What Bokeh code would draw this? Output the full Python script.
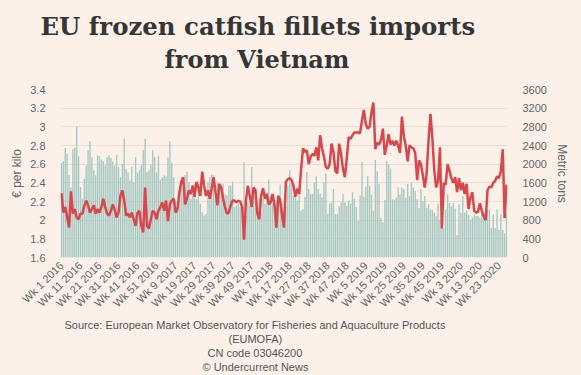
import math
from bokeh.plotting import figure
from bokeh.models import Range1d, LinearAxis, FixedTicker, Title
from bokeh.embed import file_html
from bokeh.resources import INLINE

# ---------------- data ----------------
title_lines = ["EU frozen catfish fillets imports", "from Vietnam"]
source_lines = [
    "Source: European Market Observatory for Fisheries and Aquaculture Products",
    "(EUMOFA)",
    "CN code 03046200",
    "\u00a9 Undercurrent News",
]

# weekly price, EUR per kilo (Wk 1 2016 ... Wk 27 2020)
price = [
    2.29, 2.08, 2.14, 2.03, 1.92, 2.31, 2.07, 2.12, 2.03, 2.01,
    2.07, 2.07, 2.15, 2.21, 2.16, 2.08, 2.12, 2.16, 2.07, 2.12,
    2.08, 2.14, 2.23, 2.14, 2.07, 2.05, 2.10, 2.17, 2.11, 2.03,
    2.08, 2.26, 2.32, 2.21, 2.05, 2.07, 2.03, 2.08, 2.01, 1.94,
    2.08, 2.10, 1.94, 1.87, 2.35, 1.94, 1.91, 2.01, 2.10, 2.08,
    2.01, 2.10, 2.14, 2.19, 2.10, 2.21, 1.99, 2.17, 2.21, 2.23,
    2.08, 2.12, 2.30, 2.41, 2.46, 2.17, 2.23, 2.32, 2.28, 2.37,
    2.25, 2.41, 2.35, 2.26, 2.52, 2.37, 2.26, 2.32, 2.23, 2.34,
    2.46, 2.30, 2.16, 2.39, 2.35, 2.23, 2.14, 2.07, 2.08, 2.16,
    2.21, 2.21, 2.19, 2.21, 2.20, 2.14, 1.79, 2.21, 2.37, 2.26,
    2.14, 2.35, 2.32, 2.07, 2.01, 2.26, 2.34, 2.23, 2.28, 2.17,
    2.19, 2.28, 2.16, 1.92, 2.26, 2.21, 2.05, 1.92, 2.41, 2.44,
    2.45, 2.43, 2.37, 2.25, 2.34, 2.28, 2.55, 2.77, 2.73, 2.75,
    2.60, 2.68, 2.71, 2.69, 2.78, 2.64, 2.91, 2.77, 2.68, 2.57,
    2.55, 2.60, 2.82, 2.73, 2.53, 2.50, 2.82, 2.71, 2.55, 2.46,
    2.66, 2.89, 2.87, 2.91, 2.94, 2.94, 2.94, 2.93, 3.07, 3.18,
    3.03, 2.98, 3.00, 3.16, 3.26, 2.76, 2.83, 2.81, 2.86, 2.98,
    2.70, 2.80, 2.92, 2.81, 2.85, 2.80, 2.85, 2.80, 2.72, 3.11,
    2.90, 2.80, 2.63, 2.80, 2.78, 2.77, 2.72, 2.43, 2.64, 2.60,
    2.48, 2.35, 2.50, 2.86, 3.14, 2.88, 2.53, 2.35, 2.42, 2.78,
    1.91, 2.40, 2.38, 2.60, 2.53, 2.45, 2.40, 2.46, 2.30, 2.45,
    2.32, 2.40, 2.28, 2.39, 2.12, 2.24, 2.30, 2.10, 2.08, 2.09,
    2.18, 2.10, 2.04, 2.00, 2.32, 2.36, 2.35, 2.40, 2.42, 2.47,
    2.45, 2.52, 2.76, 2.02, 2.38,
]

# weekly volume, metric tons
tons = [
    2030, 2060, 2345, 2225, 1770, 1500, 2320, 2350, 2800, 2170,
    1510, 1260, 1690, 1970, 2300, 2490, 2150, 1870, 1760, 2190,
    2170, 2100, 2060, 1970, 2150, 2190, 2130, 2060, 1970, 2200,
    1940, 1720, 2010, 2550, 1900, 1820, 1650, 1940, 1610, 2150,
    1820, 1870, 1970, 2300, 2550, 1830, 1870, 1990, 2300, 2150,
    1820, 2170, 1670, 1720, 1760, 1740, 2150, 2490, 2030, 1720,
    1220, 1040, 1540, 1610, 1510, 1760, 1840, 1610, 1260, 1360,
    1580, 1260, 1510, 1150, 970, 900, 935, 1610, 1720, 1780,
    1760, 1260, 1610, 1400, 1540, 1580, 1360, 1330, 1540, 1540,
    1630, 1080, 1110, 1150, 1080, 1000, 2040, 900, 1180, 1110,
    1940, 1330, 1220, 1000, 1260, 970, 1260, 1150, 1400, 1670,
    1330, 1150, 970, 1220, 1330, 1560, 1180, 1000, 1100, 1540,
    1870, 1610, 1330, 1300, 1220, 1330, 1000, 1040, 1300, 1830,
    1470, 1360, 1360, 1600, 1740, 1470, 1360, 1290, 1610, 1800,
    940, 1150, 1180, 1470, 930, 930, 1100, 1180, 1360, 1180,
    1110, 1220, 1150, 1400, 1260, 1080, 790, 1330, 2050, 1300,
    1520, 1740, 1540, 1350, 1000, 2090, 1850, 1580, 850, 750,
    1230, 2070, 2000, 1890, 1250, 1230, 1280, 1500, 1350, 1500,
    1460, 1280, 1570, 1320, 1610, 1500, 1430, 1250, 1060, 1460,
    1210, 1320, 1060, 1140, 1030, 1010, 960, 890, 1150, 810,
    850, 630, 1030, 1350, 1170, 1100, 1170, 1050, 480, 1140,
    960, 1320, 960, 1000, 920, 810, 850, 920, 890, 890,
    850, 1030, 920, 810, 1030, 1030, 630, 920, 630, 1030,
    590, 920, 590, 520, 950,
]

tick_labels = [
    "Wk 1 2016", "Wk 11 2016", "Wk 21 2016", "Wk 31 2016", "Wk 41 2016", "Wk 51 2016",
    "Wk 9 2017", "Wk 19 2017", "Wk 29 2017", "Wk 39 2017", "Wk 49 2017",
    "Wk 7 2018", "Wk 17 2018", "Wk 27 2018", "Wk 37 2018", "Wk 47 2018",
    "Wk 5 2019", "Wk 15 2019", "Wk 25 2019", "Wk 35 2019", "Wk 45 2019",
    "Wk 3 2020", "Wk 13 2020", "Wk 23 2020",
]
price_ticks = [1.6, 1.8, 2.0, 2.2, 2.4, 2.6, 2.8, 3.0, 3.2, 3.4]
price_tick_text = ["1.6", "1.8", "2", "2.2", "2.4", "2.6", "2.8", "3", "3.2", "3.4"]
tons_ticks = [0, 400, 800, 1200, 1600, 2000, 2400, 2800, 3200, 3600]

# ---------------- styling ----------------
BG = "#fcf1e9"
BAR = "#a3c7c1"
RED = "#d8474b"
GRID = "#e6ddd5"
TXT = "#666666"
FONT = "Liberation Sans"

N = len(price)
xs = list(range(N))

p = figure(width=581, height=375, output_backend="svg", toolbar_location=None,
           x_range=Range1d(-0.5, N - 0.5), y_range=Range1d(1.6, 3.4),
           min_border_left=60, min_border_right=74, min_border_top=89,
           min_border_bottom=118,
           background_fill_color=BG, border_fill_color=BG)
p.outline_line_color = None
p.extra_y_ranges = {"tons": Range1d(0, 3600)}

p.vbar(x=xs, top=tons, bottom=0, width=0.7, y_range_name="tons",
       fill_color=BAR, line_color=None)
p.line(xs, price, line_color=RED, line_width=2.5)

# x axis
xa = p.xaxis[0]
xa.ticker = FixedTicker(ticks=list(range(0, N, 10)))
xa.major_label_overrides = {i * 10: t for i, t in enumerate(tick_labels)}
xa.major_label_orientation = math.pi / 4
xa.axis_line_color = None
xa.major_tick_line_color = None
xa.minor_tick_line_color = None
xa.major_label_text_color = TXT
xa.major_label_text_font = FONT
xa.major_label_text_font_size = "11px"
xa.major_label_standoff = 0

# left axis
ya = p.yaxis[0]
ya.ticker = FixedTicker(ticks=price_ticks)
ya.major_label_overrides = dict(zip(price_ticks, price_tick_text))
ya.axis_label = "\u20ac per kilo"
ya.axis_line_color = None
ya.major_tick_line_color = None
ya.minor_tick_line_color = None
ya.major_label_text_color = TXT
ya.major_label_text_font = FONT
ya.major_label_text_font_size = "11px"
ya.major_label_standoff = 9
ya.axis_label_text_font = FONT
ya.axis_label_text_font_style = "normal"
ya.axis_label_text_font_size = "12px"
ya.axis_label_text_color = TXT
ya.axis_label_standoff = 3

# right axis
ra = LinearAxis(y_range_name="tons", ticker=FixedTicker(ticks=tons_ticks),
                axis_label="Metric tons")
ra.axis_line_color = None
ra.major_tick_line_color = None
ra.minor_tick_line_color = None
ra.major_label_text_color = TXT
ra.major_label_text_font = FONT
ra.major_label_text_font_size = "11px"
ra.major_label_standoff = 9
ra.axis_label_text_font = FONT
ra.axis_label_text_font_style = "normal"
ra.axis_label_text_font_size = "12px"
ra.axis_label_text_color = TXT
ra.axis_label_standoff = 5
p.add_layout(ra, "right")

p.xgrid.visible = False
p.ygrid.grid_line_color = GRID

# main title: two lines, stacked outward from the frame
t2 = Title(text=title_lines[1], align="left", offset=104, standoff=32,
           text_font="DejaVu Serif", text_font_style="bold",
           text_font_size="24px", text_color="#363636")
t1 = Title(text=title_lines[0], align="left", offset=-20, standoff=-28,
           text_font="DejaVu Serif", text_font_style="bold",
           text_font_size="24.4px", text_color="#363636")
p.add_layout(t2, "above")
p.add_layout(t1, "above")

# source notes below the x axis
src_offsets = [4, 168, 147, 142]
for txt, off in zip(source_lines, src_offsets):
    p.add_layout(Title(text=txt, align="left", offset=off, standoff=0,
                       text_font=FONT, text_font_style="normal",
                       text_font_size="11px", text_color="#555555"), "below")

html = file_html(p, INLINE)
html = html.replace("</head>", "<style>body{background:%s;}</style></head>" % BG, 1)
open("out.html", "w").write(html)
